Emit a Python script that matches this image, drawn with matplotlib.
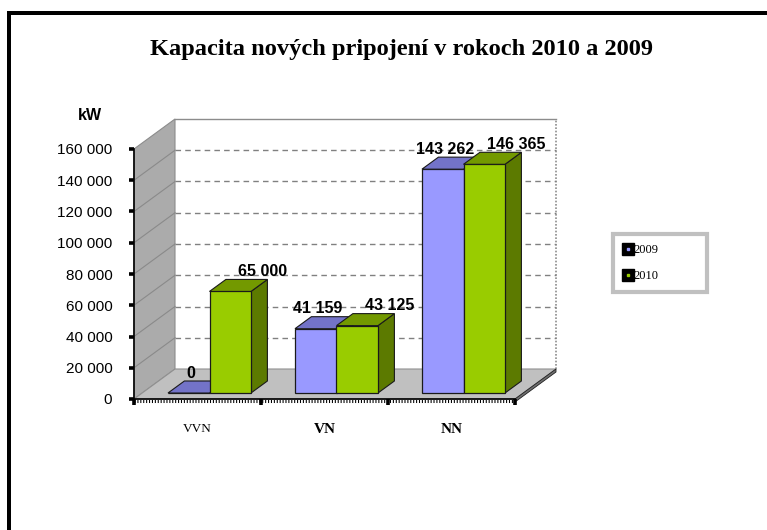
import matplotlib
matplotlib.use("Agg")
import matplotlib.pyplot as plt
from matplotlib.patches import Polygon
from matplotlib.lines import Line2D
import matplotlib.transforms as mtransforms

# ---------------- data ----------------
categories = ["VVN", "VN", "NN"]
series_names = ["2009", "2010"]
values_2009 = [0, 41159, 143262]
values_2010 = [65000, 43125, 146365]
y_ticks = [0, 20000, 40000, 60000, 80000, 100000, 120000, 140000, 160000]
y_unit = "kW"
title = "Kapacita nových pripojení v rokoch 2010 a 2009"

# ---------------- styling ----------------
W_PX, H_PX, DPI = 767, 530, 100
SANS = ["Liberation Sans", "DejaVu Sans"]
SERIF = ["Liberation Serif", "DejaVu Serif"]
series_colors = {  # front, top, side
    "2009": ("#9999ff", "#7373c8", "#5c5c99"),
    "2010": ("#99cc00", "#739900", "#5c7a00"),
}
label_offsets_px = {"2009": 2, "2010": 32}
cat_label_styles = [("normal", 9.5), ("bold", 11), ("bold", 11)]

fig = plt.figure(figsize=(W_PX / DPI, H_PX / DPI), dpi=DPI)
fig.patch.set_facecolor("white")

AX_L, AX_R, AX_TOP, AX_BOT = 134, 515, 149, 399
ax = fig.add_axes([AX_L / W_PX, 1 - AX_BOT / H_PX,
                   (AX_R - AX_L) / W_PX, (AX_BOT - AX_TOP) / H_PX])
ncat = len(categories)
ymax = y_ticks[-1]
ax.set_xlim(0, ncat)
ax.set_ylim(0, ymax)
ax.patch.set_alpha(0)

px_x = ncat / (AX_R - AX_L)
px_y = ymax / (AX_BOT - AX_TOP)
DX = 41 * px_x
DY = 30 * px_y

# ---------------- walls ----------------
ax.add_patch(Polygon([(DX, DY), (ncat + DX, DY), (ncat + DX, ymax + DY), (DX, ymax + DY)],
                     closed=True, fc="white", ec="none", clip_on=False, zorder=0.5))
ax.plot([DX, ncat + DX], [ymax + DY, ymax + DY], color="#8c8c8c", lw=1, clip_on=False, zorder=1)
ax.plot([ncat + DX, ncat + DX], [DY, ymax + DY], color="#8c8c8c", lw=1.2,
        ls=(0, (1, 1)), clip_on=False, zorder=1)
ax.add_patch(Polygon([(0, 0), (DX, DY), (DX, ymax + DY), (0, ymax)], closed=True,
                     fc="#ababab", ec="#8c8c8c", lw=0.8, clip_on=False, zorder=1))
for t in y_ticks[1:-1]:
    ax.plot([DX, ncat + DX], [t + DY, t + DY], color="#808080", lw=1,
            ls=(0, (4, 3)), clip_on=False, zorder=1.2)
    ax.plot([0, DX], [t, t + DY], color="#8a8a8a", lw=0.8, clip_on=False, zorder=1.2)

# floor
TH = 3 * px_y
ax.add_patch(Polygon([(0, 0), (ncat, 0), (ncat + DX, DY), (DX, DY)], closed=True,
                     fc="#c0c0c0", ec="#909090", lw=0.8, clip_on=False, zorder=1.5))
ax.add_patch(Polygon([(ncat, 0), (ncat + DX, DY), (ncat + DX, DY - TH), (ncat, -TH)], closed=True,
                     fc="#707070", ec="#202020", lw=0.6, clip_on=False, zorder=1.5))

# ---------------- bars ----------------
D0, D1 = 0.2, 0.6
BAR_W = 41.5 * px_x
SHIFT = 3.8 * px_x
ox0, oy0 = D0 * DX, D0 * DY
ox1, oy1 = D1 * DX, D1 * DY
all_values = [values_2009, values_2010]
for i in range(ncat):
    center0 = i + 0.5 + SHIFT
    for j, name in enumerate(series_names):
        v = all_values[j][i]
        front, topc, sidec = series_colors[name]
        x0 = center0 - BAR_W + j * BAR_W
        # side face
        ax.add_patch(Polygon([(x0 + BAR_W + ox0, oy0), (x0 + BAR_W + ox1, oy1),
                              (x0 + BAR_W + ox1, v + oy1), (x0 + BAR_W + ox0, v + oy0)],
                             closed=True, fc=sidec, ec="#1a1a1a", lw=0.8, clip_on=False, zorder=3))
        # front face
        ax.bar(x0 + ox0, v, bottom=oy0, width=BAR_W, align="edge", color=front,
               edgecolor="#1a1a1a", linewidth=0.9, clip_on=False, zorder=3)
        # top face
        ax.add_patch(Polygon([(x0 + ox0, v + oy0), (x0 + BAR_W + ox0, v + oy0),
                              (x0 + BAR_W + ox1, v + oy1), (x0 + ox1, v + oy1)],
                             closed=True, fc=topc, ec="#1a1a1a", lw=0.8, clip_on=False, zorder=3))
        lbl = f"{v:,}".replace(",", " ")
        ax.text(x0 + ox0 + BAR_W / 2 + label_offsets_px[name] * px_x, v + oy0 + 20 * px_y, lbl,
                ha="center", va="center", fontsize=11.5, fontweight="bold", family=SANS,
                zorder=5, clip_on=False)

# ---------------- axes ----------------
for s in ["top", "right"]:
    ax.spines[s].set_visible(False)
ax.spines["left"].set_linewidth(1.2)
ax.spines["bottom"].set_linewidth(1.2)
ax.spines["left"].set_zorder(4)
ax.spines["bottom"].set_zorder(4)
ax.set_yticks(y_ticks, labels=[f"{t:,}".replace(",", " ") for t in y_ticks])
ax.tick_params(axis="y", direction="out", length=3.6, width=2.6, pad=12, labelsize=11)
for t in ax.get_yticklabels():
    t.set_family(SANS)
ax.set_xticks([i + 0.5 for i in range(ncat)], labels=categories)
ax.set_xticks(list(range(ncat + 1)), minor=True)
ax.tick_params(axis="x", which="major", length=0, pad=17)
ax.tick_params(axis="x", which="minor", direction="out", length=4.5, width=2.6)
for t, (w, s) in zip(ax.get_xticklabels(), cat_label_styles):
    t.set_family(SERIF)
    t.set_fontweight(w)
    t.set_fontsize(s)
# ruler-like bottom axis
ruler_tr = mtransforms.offset_copy(ax.transData, fig=fig, x=0, y=-2, units="dots")
ax.plot([0, ncat], [0, 0], color="black", lw=2.2, ls=(0, (0.35, 0.6)),
        transform=ruler_tr, clip_on=False, zorder=4)

# ---------------- texts ----------------
fig.text(401 / W_PX, 1 - 50 / H_PX, title, ha="center", va="center",
         fontsize=17.6, fontweight="bold", family=SERIF)
fig.text(90 / W_PX, 1 - 116 / H_PX, y_unit, ha="center", va="center",
         fontsize=11.5, fontweight="bold", family=SANS)

# ---------------- legend ----------------
handles = []
for name in series_names:
    big = Line2D([], [], ls="none", marker="s", ms=8, mfc="black", mec="black")
    small = Line2D([], [], ls="none", marker="s", ms=1.5,
                   mfc=series_colors[name][0], mec=series_colors[name][0])
    handles.append((big, small))
leg = fig.legend(handles, series_names, loc="upper left",
                 bbox_to_anchor=(613 / W_PX, 1 - 234 / H_PX, 94 / W_PX, 0.0),
                 mode="expand", prop={"family": SERIF, "size": 9},
                 fancybox=False, framealpha=1, borderpad=0.8, handlelength=0.8,
                 handletextpad=0.0, labelspacing=1.15, borderaxespad=0)
leg.get_frame().set_edgecolor("#c0c0c0")
leg.get_frame().set_linewidth(3)

# ---------------- border ----------------
lw_border = 4 * 72 / DPI
fig.add_artist(Line2D([7 / W_PX, 1], [1 - 13 / H_PX, 1 - 13 / H_PX], transform=fig.transFigure,
                      color="black", lw=lw_border, solid_capstyle="butt"))
fig.add_artist(Line2D([9 / W_PX, 9 / W_PX], [0, 1 - 11 / H_PX], transform=fig.transFigure,
                      color="black", lw=lw_border, solid_capstyle="butt"))

fig.savefig("out.png", dpi=DPI)
